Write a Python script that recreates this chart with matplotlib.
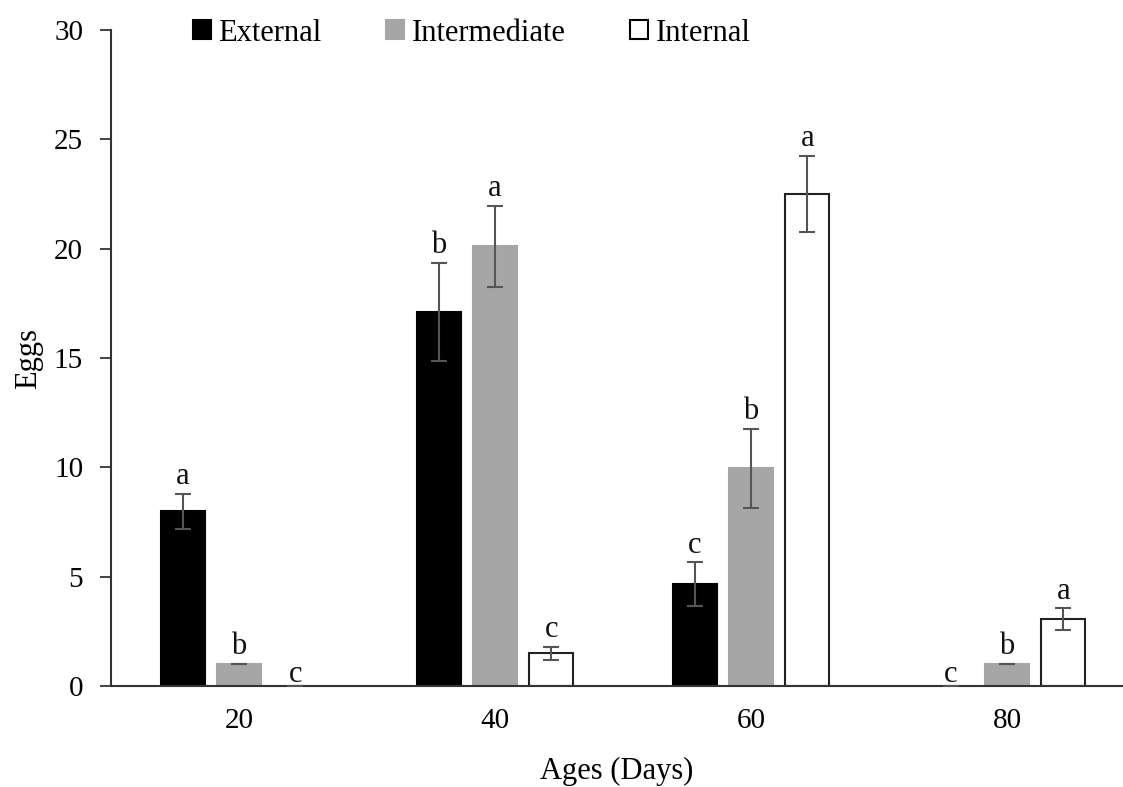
import numpy as np
import matplotlib
matplotlib.use("Agg")
import matplotlib.pyplot as plt
from matplotlib.patches import Patch

plt.rcParams['font.family'] = ['Liberation Serif', 'DejaVu Serif']

ages = ["20", "40", "60", "80"]
series = ["External", "Intermediate", "Internal"]

external = [8.0, 17.1, 4.65, 0.0]
external_err = [0.8, 2.25, 1.0, 0.0]
intermediate = [1.0, 20.1, 9.95, 1.0]
intermediate_err = [0.0, 1.85, 1.8, 0.0]
internal = [0.0, 1.5, 22.5, 3.05]
internal_err = [0.0, 0.3, 1.75, 0.5]

external_letters = ["a", "b", "c", "c"]
intermediate_letters = ["b", "a", "b", "b"]
internal_letters = ["c", "c", "a", "a"]

fig = plt.figure(figsize=(11.23, 7.87), dpi=100)
ax = fig.add_axes([0.0988, 0.1283, 0.9012, 0.8336])

x = np.arange(len(ages))
w = 0.172
step = 0.22

vals = [external, intermediate, internal]
errs = [external_err, intermediate_err, internal_err]
letters = [external_letters, intermediate_letters, internal_letters]
faces = ["black", "#a6a6a6", "white"]
edges = ["black", "#a6a6a6", "#222222"]

for i in range(3):
    pos = x + (i - 1) * step
    lw = [1.5 if v > 0 else 0 for v in vals[i]]
    ax.bar(pos, vals[i], w, color=faces[i], edgecolor=edges[i], linewidth=lw, zorder=2)
    ax.errorbar(pos, vals[i], yerr=errs[i], fmt="none", ecolor="#555555",
                elinewidth=1.5, capsize=6, capthick=1.5, zorder=3)
    for p, v, e, t in zip(pos, vals[i], errs[i], letters[i]):
        dy = 7 if v > 0 else 3
        ax.annotate(t, (p, v + e), xytext=(0, dy), textcoords="offset points",
                    ha="center", va="baseline", fontsize=22, color="#111111")

ax.set_xlim(-0.5, 3.453)
ax.set_ylim(0, 30)
ax.set_yticks(range(0, 31, 5))
ax.set_xticks(x)
ax.set_xticklabels(ages)
ax.tick_params(axis="x", length=0, pad=16, labelsize=21)
ax.tick_params(axis="y", length=8, width=1.3, pad=12, labelsize=21, color="#333333")

for s in ["top", "right"]:
    ax.spines[s].set_visible(False)
for s in ["left", "bottom"]:
    ax.spines[s].set_linewidth(1.5)
    ax.spines[s].set_color("#333333")

ax.set_xlabel("Ages (Days)", fontsize=22, labelpad=16)
ax.set_ylabel("Eggs", fontsize=22, labelpad=8)

handles = [Patch(facecolor=faces[i], edgecolor=edges[i] if i < 2 else "black", linewidth=1.5)
           for i in range(3)]
fig.legend(handles, series, loc="center", bbox_to_anchor=(0.42, 0.958), ncol=3,
           frameon=False, fontsize=22, handlelength=0.6, handleheight=0.6,
           handletextpad=0.25, columnspacing=2.1, borderaxespad=0)

fig.savefig("out.png", dpi=100)
